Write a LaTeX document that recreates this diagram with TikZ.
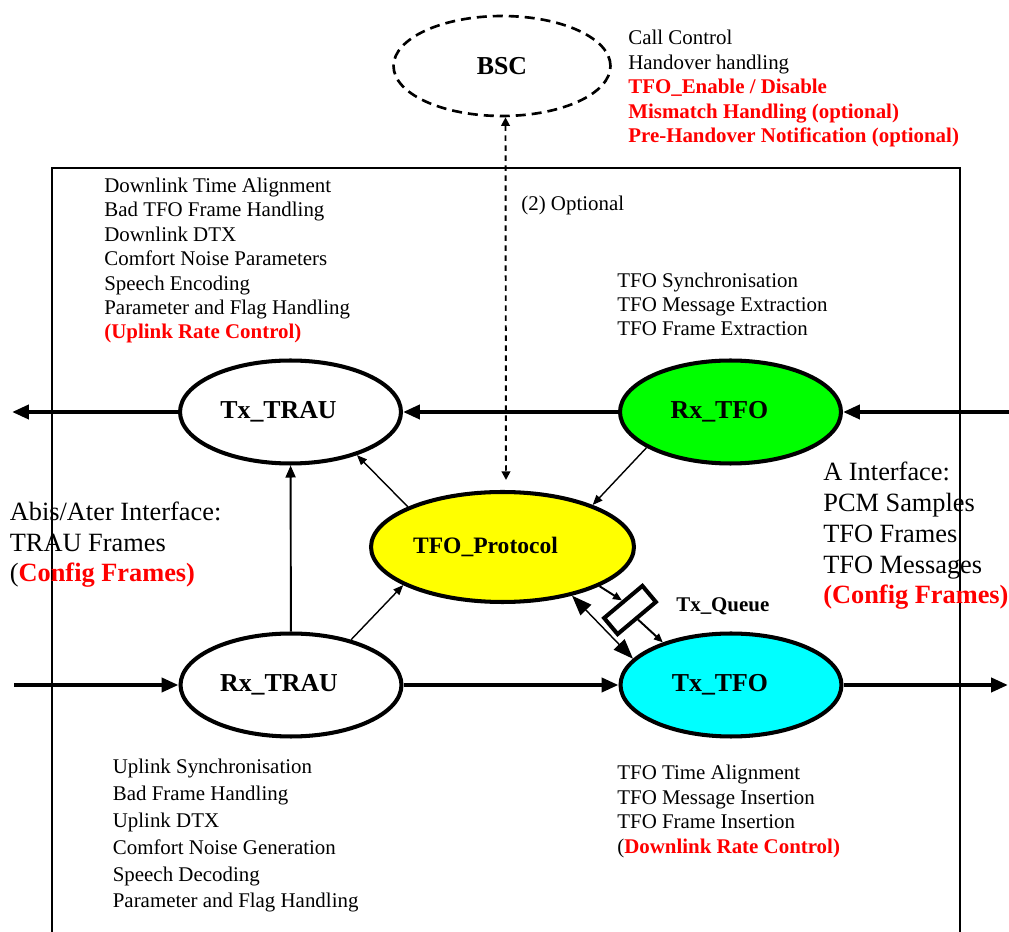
\documentclass[tikz,border=0pt]{standalone}
\usepackage{fontspec}
\setmainfont{Liberation Serif}
\usetikzlibrary{shapes.geometric, arrows.meta, positioning, calc}
\definecolor{hotred}{RGB}{255,0,0}
\definecolor{rxgreen}{RGB}{0,255,0}
\definecolor{protoyellow}{RGB}{255,255,0}
\definecolor{txcyan}{RGB}{0,255,255}
\newcommand{\hot}[1]{{\bfseries\color{hotred}#1}}

\begin{document}
\begin{tikzpicture}[
		x=0.02cm, y=-0.02cm,
		% Entity styles
		entity/.style={ellipse, draw=black, line width=2.3pt, minimum width=4.42cm, minimum height=2.06cm, inner sep=0pt, font=\fontsize{14.7}{17}\selectfont\bfseries},
		bscbox/.style={entity, line width=1.5pt, dash pattern=on 2mm off 1.2mm, minimum width=4.34cm, minimum height=2cm},
		queuebox/.style={draw=black, line width=2.3pt, minimum width=1cm, minimum height=0.42cm, inner sep=0pt, rotate=40},
		% Text styles (placed at the baseline of their last line)
		duties/.style={anchor=base west, align=left, inner sep=0pt, font=\fontsize{11.9}{13.94}\selectfont},
		iface/.style={anchor=base west, align=left, inner sep=0pt, font=\fontsize{15}{17.6}\selectfont},
		% Connector styles
		bus/.style={line width=2.3pt, -{Triangle[length=3.4mm, width=2.8mm]}},
		link/.style={line width=0.8pt, -{Triangle[length=2mm, width=1.6mm]}},
		qlink/.style={line width=1.1pt, -{Triangle[length=1.8mm, width=1.5mm]}},
		ctrl/.style={line width=1.1pt, dash pattern=on 1.1mm off 0.9mm, {Triangle[length=1.7mm, width=1.7mm]}-{Triangle[length=1.7mm, width=1.7mm]}}
		]
		\useasboundingbox (0,0) rectangle (1009,932);
		
		% --- TRANSCODER FRAME ---
		\draw[line width=0.7pt] (52,932) |- (960,168) -- (960,932);
		
		% --- BSC ---
		\node[bscbox] (BSC) at (502,66) {BSC};
		\node[duties] (bscList) at (628,142.5) {Call Control\\Handover handling\\\hot{TFO\_Enable / Disable}\\\hot{Mismatch Handling (optional)}\\\hot{Pre-Handover Notification (optional)}};
		
		% --- ENTITIES ---
		\node[entity, fill=white] (TxTRAU) at (290.5,412) {\hspace*{-0.48cm}Tx\_TRAU};
		\node[entity, fill=rxgreen] (RxTFO) at (730.5,412) {\hspace*{-0.44cm}Rx\_TFO};
		\node[entity, fill=protoyellow, minimum width=5.26cm, minimum height=2.2cm, font=\fontsize{13.4}{16}\selectfont\bfseries] (TFOProtocol) at (502.5,547) {\hspace*{-0.68cm}TFO\_Protocol};
		\node[entity, fill=white] (RxTRAU) at (291,685) {\hspace*{-0.48cm}Rx\_TRAU};
		\node[entity, fill=txcyan] (TxTFO) at (731,685) {\hspace*{-0.44cm}Tx\_TFO};
		\node[queuebox] (Queue) at (630,610) {};
		\node[anchor=base west, inner sep=0pt, font=\fontsize{11.9}{14}\selectfont\bfseries] (queueLabel) at (676,611.7) {Tx\_Queue};
		
		% --- FUNCTION LISTS ---
		\node[duties] (txTrauList) at (104,339) {Downlink Time Alignment\\Bad TFO Frame Handling\\Downlink DTX\\Comfort Noise Parameters\\Speech Encoding\\Parameter and Flag Handling\\\hot{(Uplink Rate Control)}};
		\node[duties] (rxTfoList) at (617,336) {TFO Synchronisation\\TFO Message Extraction\\TFO Frame Extraction};
		\node[duties, font=\fontsize{11.9}{15.3}\selectfont] (rxTrauList) at (112.5,908) {Uplink Synchronisation\\Bad Frame Handling\\Uplink DTX\\Comfort Noise Generation\\Speech Decoding\\Parameter and Flag Handling};
		\node[duties] (txTfoList) at (617,853.3) {TFO Time Alignment\\TFO Message Insertion\\TFO Frame Insertion\\(\hot{Downlink Rate Control)}};
		\node[duties] (optLabel) at (521,210.5) {(2) Optional};
		
		% --- INTERFACES ---
		\node[iface] (abisList) at (9.5,582) {Abis/Ater Interface:\\TRAU Frames\\(\hot{Config Frames)}};
		\node[iface] (aList) at (823,604) {A Interface:\\PCM Samples\\TFO Frames\\TFO Messages\\\hot{(Config Frames)}};
		\coordinate (abisOut) at (12,412);
		\coordinate (abisIn) at (14,685);
		\coordinate (aIn) at (1009,412);
		\coordinate (aOut) at (1008,685);
		
		% --- DATA PATHS ---
		\draw[bus] (aIn) -- (RxTFO);
		\draw[bus] (RxTFO) -- (TxTRAU);
		\draw[bus] (TxTRAU) -- (abisOut);
		\draw[bus] (abisIn) -- (RxTRAU);
		\draw[bus] (RxTRAU) -- (TxTFO);
		\draw[bus] (TxTFO) -- (aOut);
		
		% --- INTERNAL LINKS ---
		\draw[link, line width=1.1pt, -{Triangle[length=2.4mm, width=2mm]}] (RxTRAU) -- (TxTRAU);
		\draw[link] (RxTRAU.37) -- (TFOProtocol.201);
		\draw[link] (TFOProtocol.157) -- (TxTRAU.-33);
		\draw[link] (RxTFO.203) -- (TFOProtocol.25);
		\draw[link, {Triangle[length=4mm, width=3mm]}-{Triangle[length=4mm, width=3mm]}] (TFOProtocol.-35) -- (TxTFO.165);
		\draw[qlink] (TFOProtocol.-22) -- (Queue.north);
		\draw[qlink] (Queue.south) -- (TxTFO.148);
		\draw[ctrl, shorten >=0.2cm] ([xshift=0.07cm]BSC.south) -- ([xshift=0.07cm]TFOProtocol.north);
		
	\end{tikzpicture}
\end{document}
